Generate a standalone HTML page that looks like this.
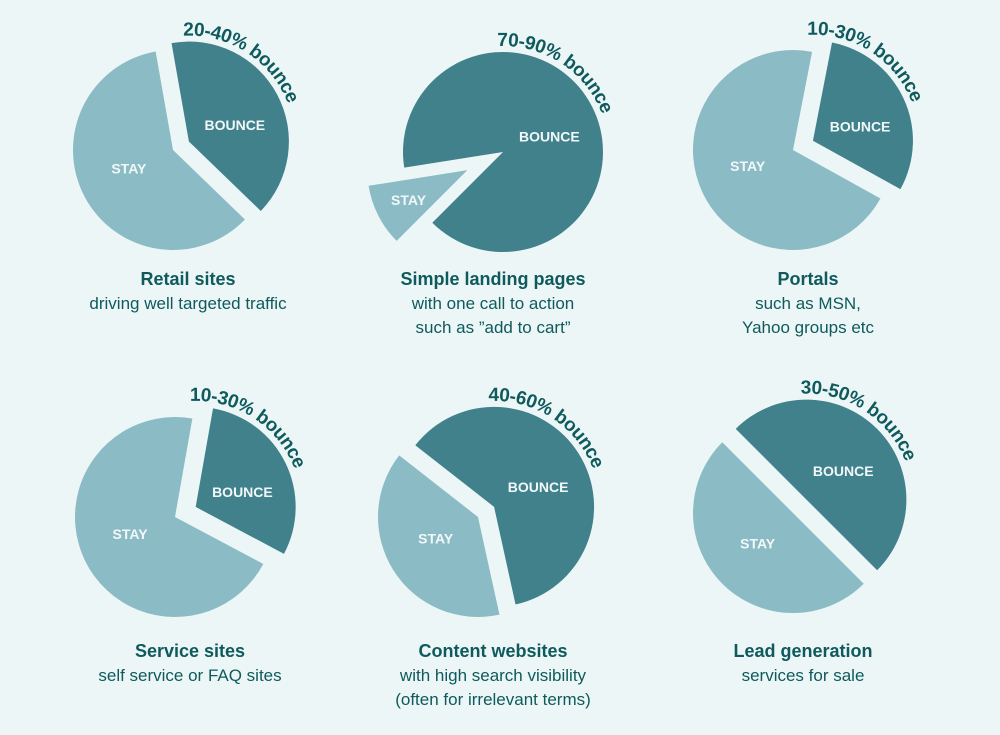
<!DOCTYPE html>
<html><head><meta charset="utf-8"><style>
html,body{margin:0;padding:0;background:#edf6f7;}
svg{display:block;font-family:"Liberation Sans","DejaVu Sans",sans-serif;}
.t{font-weight:bold;font-size:18px;fill:#0e5a5c;text-anchor:middle;}
.s{font-size:17px;fill:#0e5a5c;text-anchor:middle;}
.lbl{font-weight:bold;font-size:14px;fill:#f2f8f9;text-anchor:middle;}
.arc{font-size:19px;fill:#0e5a5c;font-weight:bold;letter-spacing:-0.4px;}
</style></head><body>
<svg id="c" width="1000" height="735" viewBox="0 0 1000 735"></svg>
<script>
const categories=["Retail sites","Simple landing pages","Portals","Service sites","Content websites","Lead generation"];
const subtitles=[["driving well targeted traffic"],["with one call to action","such as \u201dadd to cart\u201d"],["such as MSN,","Yahoo groups etc"],["self service or FAQ sites"],["with high search visibility","(often for irrelevant terms)"],["services for sale"]];
const bounceLabels=["20-40% bounce","70-90% bounce","10-30% bounce","10-30% bounce","40-60% bounce","30-50% bounce"];
const bouncePct=[40,90,30,30,61,50];
const bounceStartDeg=[-10,261,11,10,308,315];
const explodedSlice=["bounce","stay","bounce","bounce","bounce","bounce"];
const explodeDist=[18,40,22,23,19,19];
const centersX=[173,503,793,175,478,793];
const centersY=[150,152,150,517,517,513];
const titleX=[188,493,808,190,493,803];
const titleY=[285,285,285,657,657,657];
const R=100;
const NS="http://www.w3.org/2000/svg";
const svg=document.getElementById('c');
function pt(cx,cy,r,a){const t=a*Math.PI/180;return [cx+r*Math.sin(t),cy-r*Math.cos(t)];}
function sector(cx,cy,r,a0,a1){const p0=pt(cx,cy,r,a0),p1=pt(cx,cy,r,a1);const large=(a1-a0)>180?1:0;
return `M${cx},${cy}L${p0[0]},${p0[1]}A${r},${r} 0 ${large} 1 ${p1[0]},${p1[1]}Z`;}
function mk(tag,attrs){const e=document.createElementNS(NS,tag);for(const k in attrs)e.setAttribute(k,attrs[k]);return e;}
const defs=mk('defs',{});svg.appendChild(defs);
categories.forEach((cat,i)=>{
  const g=mk('g',{});
  
  
  svg.appendChild(g);
  const b0=bounceStartDeg[i], b1=b0+bouncePct[i]*3.6;
  const s0=b1, s1=b0+360;
  const cx=centersX[i], cy=centersY[i];
  const bMid=(b0+b1)/2, sMid=(s0+s1)/2;
  let bc=[cx,cy], sc=[cx,cy];
  if(explodedSlice[i]==="bounce") bc=pt(cx,cy,explodeDist[i],bMid); else sc=pt(cx,cy,explodeDist[i],sMid);
  const stay=mk('path',{d:sector(sc[0],sc[1],R,s0,s1),fill:'#8bbcc5'});
  
  
  g.appendChild(stay);
  const bo=mk('path',{d:sector(bc[0],bc[1],R,b0,b1),fill:'#41818c'});
  
  
  g.appendChild(bo);
  const bl=pt(bc[0],bc[1],52,bMid);
  const bt=mk('text',{x:bl[0],y:Math.min(bl[1]+13,bc[1]-3),class:'lbl'});bt.textContent='BOUNCE';
  
  
  g.appendChild(bt);
  const isEx=explodedSlice[i]==="stay";
  const sl=pt(sc[0],sc[1],isEx?66:50,sMid);
  const st=mk('text',{x:sl[0],y:sl[1]+(isEx?5:0),class:'lbl'});st.textContent='STAY';
  
  
  g.appendChild(st);
  const ar=R+6, a0=-3, a1=140;
  const p0=pt(bc[0],bc[1],ar,a0),p1=pt(bc[0],bc[1],ar,a1);
  const path=mk('path',{id:'arc'+i,d:`M${p0[0]},${p0[1]}A${ar},${ar} 0 0 1 ${p1[0]},${p1[1]}`,fill:'none'});
  defs.appendChild(path);
  const at=mk('text',{class:'arc'});
  
  
  const tp=mk('textPath',{href:'#arc'+i});tp.textContent=bounceLabels[i];
  at.appendChild(tp);g.appendChild(at);
  const tt=mk('text',{x:titleX[i],y:titleY[i],class:'t'});tt.textContent=cat;
  
  
  g.appendChild(tt);
  subtitles[i].forEach((line,j)=>{
    const s=mk('text',{x:titleX[i],y:titleY[i]+24+j*24,class:'s'});s.textContent=line;
    
    
    g.appendChild(s);
  });
});
</script>
</body></html>
